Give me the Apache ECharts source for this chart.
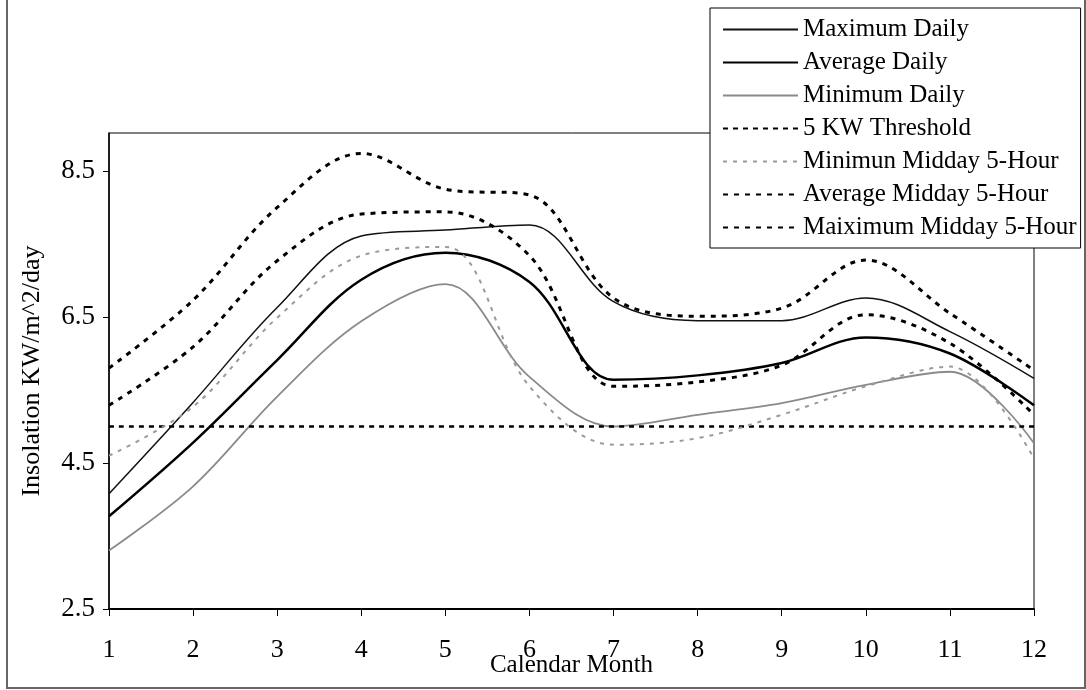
<!DOCTYPE html>
<html>
<head>
<meta charset="utf-8">
<script src="https://cdn.jsdelivr.net/npm/echarts@6/dist/echarts.min.js"></script>
<style>
  html, body { margin: 0; padding: 0; background: #fff; }
  #main { width: 1086px; height: 690px; }
</style>
</head>
<body>
<div id="main"></div>
<script>
var chart = echarts.init(document.getElementById('main'));

var months = ['1', '2', '3', '4', '5', '6', '7', '8', '9', '10', '11', '12'];
var yTicks = [2.5, 4.5, 6.5, 8.5];

var maxDaily  = [4.08, 5.33, 6.63, 7.61, 7.69, 7.76, 6.71, 6.45, 6.45, 6.76, 6.30, 5.66];
var avgDaily  = [3.77, 4.78, 5.91, 7.01, 7.38, 6.98, 5.64, 5.70, 5.87, 6.22, 6.00, 5.29];
var minDaily  = [3.30, 4.18, 5.41, 6.44, 6.95, 5.68, 5.00, 5.16, 5.32, 5.57, 5.75, 4.77];
var threshold = [5.0, 5.0, 5.0, 5.0, 5.0, 5.0, 5.0, 5.0, 5.0, 5.0, 5.0, 5.0];
var minMidday = [4.60, 5.27, 6.49, 7.34, 7.46, 5.55, 4.75, 4.84, 5.16, 5.55, 5.82, 4.56];
var avgMidday = [5.29, 6.09, 7.27, 7.91, 7.94, 7.34, 5.55, 5.61, 5.84, 6.53, 6.14, 5.16];
var maxMidday = [5.80, 6.73, 8.00, 8.74, 8.25, 8.17, 6.76, 6.51, 6.62, 7.28, 6.55, 5.77];

var serif = '"Liberation Serif", "DejaVu Serif", serif';

function lineSeries(name, data, color, width, dash) {
    return {
        name: name,
        type: 'line',
        data: data,
        smooth: 0.35,
        symbol: 'none',
        lineStyle: { color: color, width: width, type: dash },
        itemStyle: { color: color },
        z: 3
    };
}

var option = {
    backgroundColor: '#fff',
    animation: false,
    grid: {
        left: 109,
        right: 52,
        top: 133,
        bottom: 81,
        outerBoundsMode: 'none',
        show: true,
        borderColor: '#000',
        borderWidth: 1
    },
    legend: {
        orient: 'vertical',
        left: 710,
        top: 8,
        padding: [9, 4, 8, 12],
        itemWidth: 75,
        itemHeight: 14,
        itemGap: 8,
        backgroundColor: '#fff',
        borderColor: '#000',
        borderWidth: 1,
        borderRadius: 0,
        itemStyle: { opacity: 0 },
        textStyle: { fontFamily: serif, fontSize: 25, color: '#000' },
        data: ['Maximum Daily', 'Average Daily', 'Minimum Daily', '5 KW Threshold',
               'Minimun Midday 5-Hour', 'Average Midday 5-Hour', 'Maiximum Midday 5-Hour']
    },
    xAxis: {
        type: 'category',
        data: months,
        boundaryGap: false,
        name: 'Calendar Month',
        nameLocation: 'middle',
        nameGap: 44,
        nameMoveOverlap: false,
        nameTextStyle: { fontFamily: serif, fontSize: 25, color: '#000' },
        axisLine: { lineStyle: { color: '#000', width: 2 } },
        axisTick: { show: true, inside: false, length: 7, lineStyle: { color: '#000' } },
        axisLabel: { fontFamily: serif, fontSize: 26, color: '#000', margin: 28 },
        splitLine: { show: false }
    },
    yAxis: {
        type: 'value',
        min: 2.5,
        max: 9.02,
        name: 'Insolation KW/m^2/day',
        nameLocation: 'middle',
        nameGap: 64,
        nameMoveOverlap: false,
        nameTextStyle: { fontFamily: serif, fontSize: 26, color: '#000' },
        axisLine: { show: true, lineStyle: { color: '#000', width: 1.5 } },
        axisTick: { show: true, length: 6, customValues: yTicks, lineStyle: { color: '#000' } },
        axisLabel: {
            fontFamily: serif, fontSize: 27, color: '#000', margin: 14,
            customValues: yTicks,
            formatter: function (v) { return v.toFixed(1); }
        },
        splitLine: { show: false }
    },
    graphic: [{
        type: 'polyline',
        silent: true,
        shape: { points: [[7, 0], [7, 688], [1085, 688], [1085, 0]] },
        style: { fill: null, stroke: '#666', lineWidth: 2 }
    }],
    series: [
        lineSeries('Maximum Daily', maxDaily, '#111', 1.5, 'solid'),
        lineSeries('Average Daily', avgDaily, '#000', 2.5, 'solid'),
        lineSeries('Minimum Daily', minDaily, '#8a8a8a', 1.8, 'solid'),
        lineSeries('5 KW Threshold', threshold, '#000', 2.5, [5, 5]),
        lineSeries('Minimun Midday 5-Hour', minMidday, '#9a9a9a', 2, [4, 6]),
        lineSeries('Average Midday 5-Hour', avgMidday, '#000', 3, [5, 6]),
        lineSeries('Maiximum Midday 5-Hour', maxMidday, '#000', 3, [5, 6])
    ]
};

chart.setOption(option);
</script>
</body>
</html>
